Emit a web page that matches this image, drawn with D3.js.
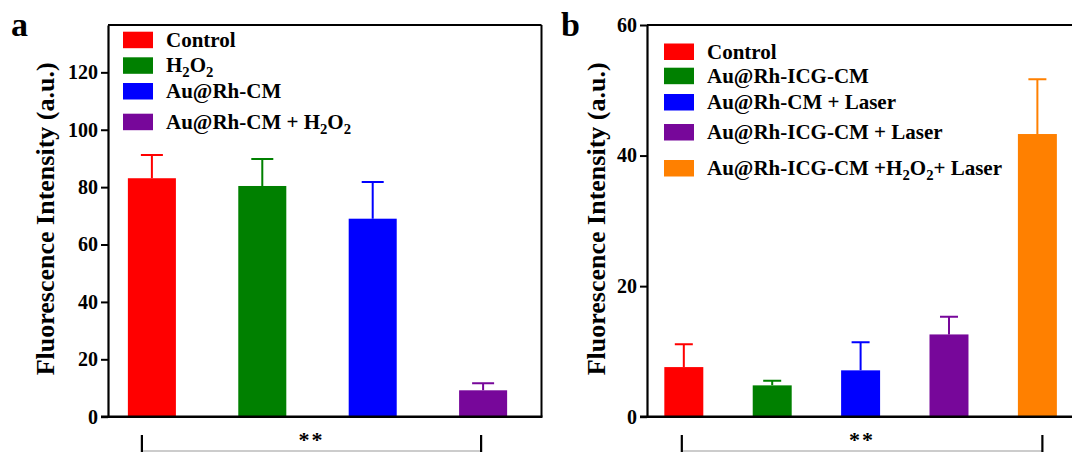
<!DOCTYPE html>
<html>
<head>
<meta charset="utf-8">
<script src="https://cdn.jsdelivr.net/npm/d3@7"></script>
<style>
  body { margin: 0; background: #fff; }
  svg text { font-family: "Liberation Serif", "Times New Roman", serif; font-weight: bold; fill: #000; }
</style>
</head>
<body>
<div id="plot"></div>
<script>
// panel a data
var groupsA = ["Control", "H2O2", "Au@Rh-CM", "Au@Rh-CM + H2O2"]
var meanA = [83.1, 80.4, 69.0, 9.2]
var errA = [8.1, 9.4, 12.8, 2.5]
var ticksA = [0, 20, 40, 60, 80, 100, 120]

// panel b data
var groupsB = ["Control", "Au@Rh-ICG-CM", "Au@Rh-CM + Laser", "Au@Rh-ICG-CM + Laser", "Au@Rh-ICG-CM +H2O2+ Laser"]
var meanB = [7.6, 4.8, 7.1, 12.6, 43.3]
var errB = [3.5, 0.7, 4.3, 2.7, 8.4]
var ticksB = [0, 20, 40, 60]

var colors = ["#ff0000", "#008000", "#0000ff", "#77079a", "#ff8000"]
var serif = '"Liberation Serif", "Times New Roman", serif'

var svg = d3.select("#plot")
  .append("svg")
  .attr("width", 1072)
  .attr("height", 452)

// legend label, digits of H2O2 as subscripts
function richLabel(sel, str) {
  var shift = 0
  function add(t, sub) {
    var dy = sub ? 5 - shift : -shift
    shift = sub ? 5 : 0
    var ts = sel.append("tspan").attr("dy", dy).text(t)
    if (sub) ts.attr("font-size", "0.7em")
  }
  str.split(/(H2O2)/).forEach(function (p) {
    if (p === "H2O2") {
      add("H"); add("2", true); add("O"); add("2", true)
    } else if (p.length) {
      add(p)
    }
  })
}

function panel(opt) {
  var g = svg.append("g")

  var x = d3.scaleBand()
    .domain(opt.groups)
    .range([opt.left, opt.right])
    .paddingInner(opt.pin)
    .paddingOuter(opt.pout)

  var y = d3.scaleLinear()
    .domain([0, opt.ymax])
    .range([opt.bottom, opt.top])

  // frame
  g.append("line")
    .attr("x1", opt.left).attr("x2", opt.frameRight)
    .attr("y1", opt.top).attr("y2", opt.top)
    .attr("stroke", "#000").attr("stroke-width", 2)
  if (opt.drawRight) {
    g.append("line")
      .attr("x1", opt.frameRight).attr("x2", opt.frameRight)
      .attr("y1", opt.top).attr("y2", opt.bottom)
      .attr("stroke", "#000").attr("stroke-width", 2)
  }

  var bw = x.bandwidth()

  // bars
  g.selectAll(".bar")
    .data(opt.groups)
    .enter()
    .append("rect")
    .attr("x", d => x(d))
    .attr("y", (d, i) => y(opt.mean[i]))
    .attr("width", bw)
    .attr("height", (d, i) => y(0) - y(opt.mean[i]))
    .attr("fill", (d, i) => colors[i])

  // error bars (upper only)
  g.selectAll(".err")
    .data(opt.groups)
    .enter()
    .append("path")
    .attr("fill", "none")
    .attr("stroke", (d, i) => colors[i])
    .attr("stroke-width", 2)
    .attr("d", function (d, i) {
      var cx = x(d) + bw / 2
      var top = y(opt.mean[i] + opt.err[i])
      return "M" + cx + "," + y(opt.mean[i]) + "V" + top +
        "M" + (cx - opt.cap) + "," + top + "H" + (cx + opt.cap)
    })

  // axes
  var ya = g.append("g")
    .attr("transform", "translate(" + opt.left + ",0)")
    .call(d3.axisLeft(y).tickValues(opt.ticks).tickSize(7).tickPadding(3).tickSizeOuter(0))
  ya.select(".domain").attr("stroke-width", 2.2)
  ya.selectAll(".tick line").attr("stroke-width", 2)
  ya.selectAll(".tick text").attr("font-size", 20)
    .attr("font-family", serif)
    .attr("font-weight", "bold").attr("fill", "#000")

  g.append("line")
    .attr("x1", opt.left - 7).attr("x2", opt.frameRight + 1)
    .attr("y1", opt.bottom).attr("y2", opt.bottom)
    .attr("stroke", "#000").attr("stroke-width", 2.5)

  // y title
  g.append("text")
    .attr("transform", "translate(" + opt.titleX + "," + ((opt.top + opt.bottom) / 2 + opt.titleDy) + ") rotate(-90)")
    .attr("text-anchor", "middle")
    .attr("font-size", 26)
    .text("Fluorescence Intensity (a.u.)")

  // panel letter
  g.append("text")
    .attr("x", opt.letterX).attr("y", 36)
    .attr("font-size", 34)
    .text(opt.letter)

  // legend
  var lg = g.selectAll(".leg")
    .data(opt.groups)
    .enter()
    .append("g")
    .attr("transform", (d, i) => "translate(" + opt.legX + "," + opt.legY[i] + ")")
  lg.append("rect")
    .attr("width", 30).attr("height", 16.5)
    .attr("fill", (d, i) => colors[i])
  lg.append("text")
    .attr("x", 43).attr("y", 15)
    .attr("font-size", 21)
    .each(function (d) { richLabel(d3.select(this), d) })

  // significance bracket
  var bx1 = x(opt.groups[0]) + bw / 2 + opt.brk[0]
  var bx2 = x(opt.groups[opt.groups.length - 1]) + bw / 2 + opt.brk[1]
  g.append("line")
    .attr("x1", bx1).attr("x2", bx2).attr("y1", 451).attr("y2", 451)
    .attr("stroke", "#999").attr("stroke-width", 1)
  g.selectAll(".bk")
    .data([bx1, bx2])
    .enter()
    .append("line")
    .attr("x1", d => d).attr("x2", d => d)
    .attr("y1", 435).attr("y2", 452)
    .attr("stroke", "#000").attr("stroke-width", 2.2)
  g.append("text")
    .attr("x", (bx1 + bx2) / 2).attr("y", 447)
    .attr("text-anchor", "middle")
    .attr("font-size", 22)
    .attr("font-weight", "normal")
    .attr("letter-spacing", 2)
    .attr("fill", "#222")
    .text("**")
}

panel({
  groups: groupsA, mean: meanA, err: errA, ticks: ticksA,
  left: 108, right: 527, frameRight: 541.5, drawRight: true,
  top: 25, bottom: 416.7, ymax: 136.5,
  pin: 0.565, pout: 0.18, cap: 11,
  titleX: 54, titleDy: -2, letter: "a", letterX: 11,
  legX: 123, legY: [31.7, 57.3, 83, 113.7],
  brk: [-10, -2]
})

panel({
  groups: groupsB, mean: meanB, err: errB, ticks: ticksB,
  left: 647, right: 1074.2, frameRight: 1076, drawRight: false,
  top: 25, bottom: 416.7, ymax: 60,
  pin: 0.559, pout: 0.196, cap: 9,
  titleX: 605, titleDy: -2, letter: "b", letterX: 561,
  legX: 664, legY: [43.5, 67.7, 94, 124, 160],
  brk: [-2, 5]
})
</script>
</body>
</html>
